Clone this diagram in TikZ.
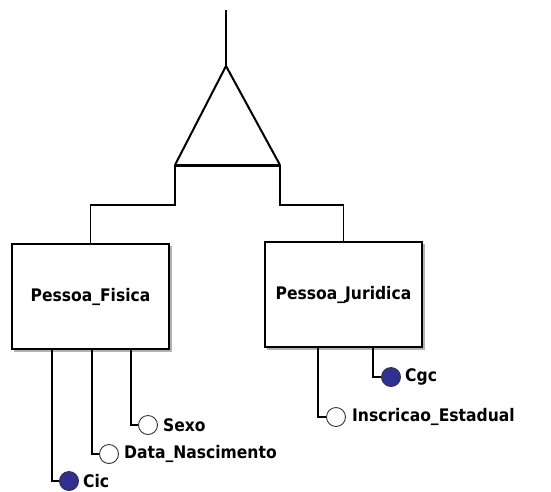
\documentclass[tikz,border=0pt]{standalone}
\usepackage{fontspec}
\setmainfont{DejaVu Sans Condensed}
\definecolor{keyblue}{RGB}{48,48,145}
\begin{document}
\begin{tikzpicture}[x=1pt,y=-1pt,
  line/.style={draw=black,line width=1.3pt},
  lblfont/.style={font=\bfseries\fontsize{17.3}{20}\selectfont},
  entbox/.style={draw=black,line width=1.5pt,fill=white,minimum width=157pt,minimum height=105pt,inner sep=0pt,lblfont},
  attr/.style={circle,draw=black!80,line width=0.9pt,fill=white,minimum size=19pt,inner sep=0pt},
  keyattr/.style={attr,fill=keyblue},
  lbl/.style={anchor=west,inner sep=0pt,lblfont}]
\useasboundingbox (0,0) rectangle (551,491);
% generalization triangle
\coordinate (top) at (226,10);
\coordinate (apex) at (226,66);
\coordinate (bl) at (175,165);
\coordinate (br) at (280,165);
\draw[line] (top) -- (apex);
\draw[line width=2pt,line join=miter] (bl) -- (apex) -- (br);
\draw[line width=3pt] (bl) -- (br);
% shadows
\fill[gray!60] (14,246) rectangle (172,352);
\fill[gray!60] (267,244) rectangle (425,350);
% entities
\node[entbox] (pf) at (90.5,296.5) {Pessoa\_Fisica};
\node[entbox] (pj) at (343.5,294.5) {Pessoa\_Juridica};
\draw[line] (bl) -- ++(0,40) -| (pf.north);
\draw[line] (br) -- ++(0,40) -| (pj.north);
% attributes of Pessoa_Fisica
\node[keyattr] (cic) at (69,481) {};
\node[attr] (dn) at (109,454) {};
\node[attr] (sexo) at (148,425) {};
\node[lbl] (cicl) at (83,481) {Cic};
\node[lbl] (dnl) at (124,454) {Data\_Nascimento};
\node[lbl] (sexol) at (163,425) {Sexo};
\draw[line] (pf.south -| 52,0) |- (cic.west);
\draw[line] (pf.south -| 92,0) |- (dn.west);
\draw[line] (pf.south -| 131,0) |- (sexo.west);
% attributes of Pessoa_Juridica
\node[attr] (ie) at (336,417) {};
\node[keyattr] (cgc) at (391,377) {};
\node[lbl] (iel) at (352,417) {Inscricao\_Estadual};
\node[lbl] (cgcl) at (405,377) {Cgc};
\draw[line] (pj.south -| 318,0) |- (ie.west);
\draw[line] (pj.south -| 373,0) |- (cgc.west);
\end{tikzpicture}
\end{document}
